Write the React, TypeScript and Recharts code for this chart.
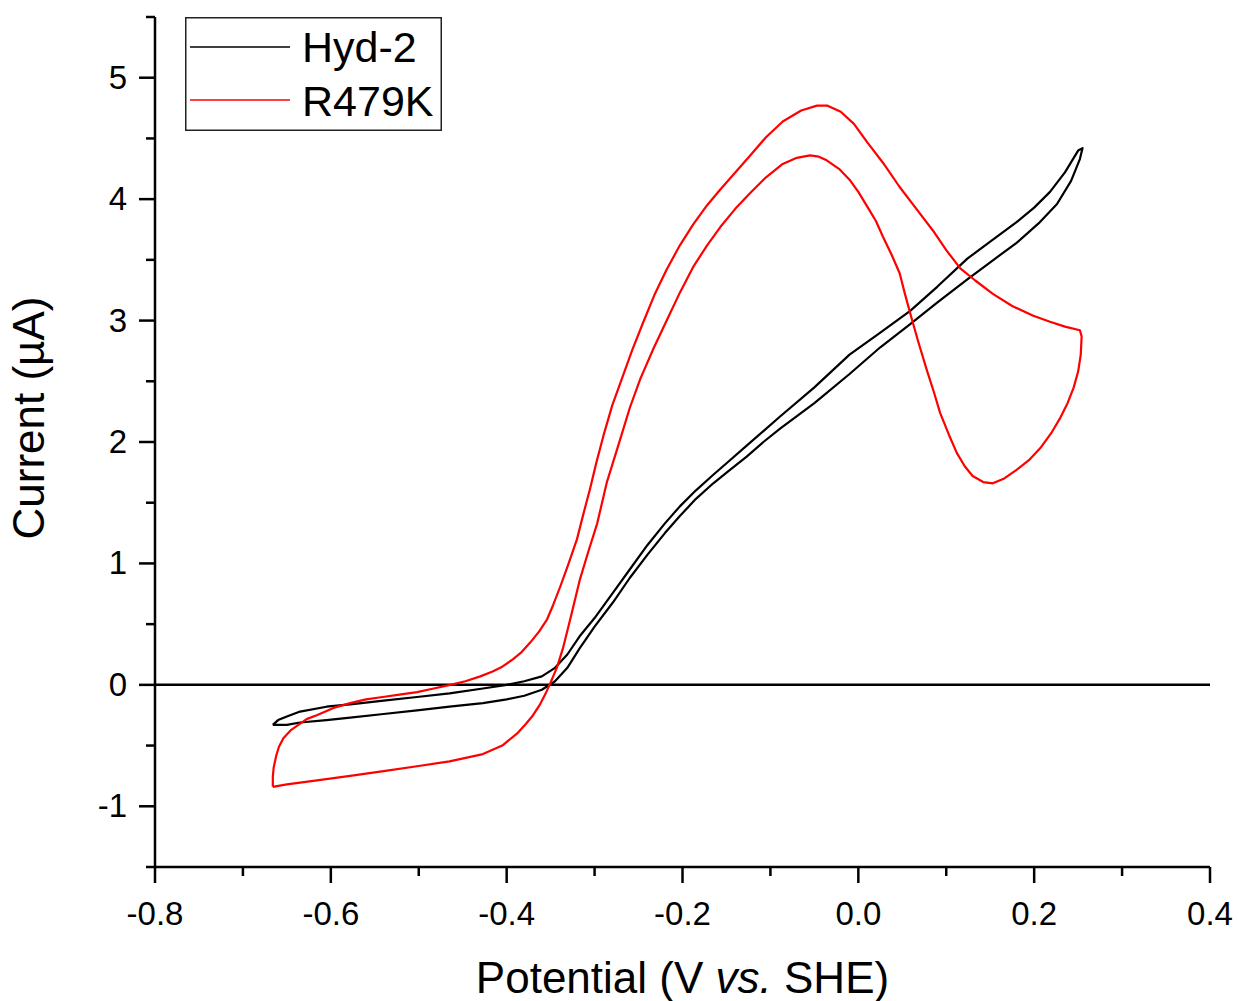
import React from "react";
import { LineChart, Line, XAxis, YAxis, ReferenceLine, Legend } from "recharts";

const FONT = "'Liberation Sans', Arial, Helvetica, sans-serif";

const xMajorTicks = [-0.8, -0.6, -0.4, -0.2, 0, 0.2, 0.4];
const xMinorTicks = [-0.7, -0.5, -0.3, -0.1, 0.1, 0.3];
const yMajorTicks = [-1, 0, 1, 2, 3, 4, 5];
const yMinorTicks = [-1.5, -0.5, 0.5, 1.5, 2.5, 3.5, 4.5, 5.5];

const hydPotential = [
  -0.666, -0.65, -0.635, -0.605, -0.578, -0.54, -0.502, -0.465, -0.427, -0.4, -0.38, -0.36, -0.345, -0.331,
  -0.317, -0.3, -0.279, -0.26, -0.24, -0.22, -0.203, -0.185, -0.165, -0.146, -0.127, -0.108, -0.089, -0.05,
  -0.01, 0.025, 0.059, 0.09, 0.124, 0.15, 0.18, 0.205, 0.226, 0.242, 0.252, 0.255,
  0.25, 0.235, 0.218, 0.2, 0.18, 0.15, 0.124, 0.09, 0.059, 0.025, -0.01, -0.05, -0.089, -0.108, -0.127,
  -0.146, -0.165, -0.185, -0.203, -0.22, -0.24, -0.26, -0.279, -0.3, -0.317, -0.331, -0.345, -0.36, -0.38,
  -0.4, -0.427, -0.465, -0.502, -0.54, -0.578, -0.605, -0.635, -0.65, -0.66, -0.666,
];
const hydCurrent = [
  -0.33, -0.33, -0.31, -0.29, -0.27, -0.24, -0.21, -0.18, -0.15, -0.12, -0.09, -0.04, 0.03, 0.14,
  0.3, 0.48, 0.68, 0.88, 1.07, 1.25, 1.39, 1.53, 1.66, 1.77, 1.88, 2.0, 2.11, 2.32,
  2.56, 2.78, 2.97, 3.15, 3.34, 3.48, 3.64, 3.8, 3.96, 4.15, 4.33, 4.42,
  4.4, 4.22, 4.06, 3.93, 3.81, 3.65, 3.51, 3.28, 3.08, 2.9, 2.72, 2.45, 2.21, 2.09, 1.97,
  1.85, 1.73, 1.6, 1.47, 1.33, 1.15, 0.95, 0.76, 0.55, 0.4, 0.25, 0.14, 0.07, 0.03,
  0.0, -0.03, -0.07, -0.1, -0.13, -0.16, -0.18, -0.22, -0.26, -0.29, -0.33,
];

const r479kPotential = [
  -0.666, -0.65, -0.62, -0.578, -0.54, -0.502, -0.465, -0.427, -0.405, -0.388, -0.378, -0.37, -0.362, -0.355,
  -0.35, -0.343, -0.336, -0.327, -0.317, -0.307, -0.297, -0.286, -0.271, -0.26, -0.248, -0.233, -0.218, -0.203,
  -0.188, -0.172, -0.157, -0.14, -0.123, -0.105, -0.086, -0.07, -0.055, -0.045, -0.036, -0.022, -0.01, 0.0,
  0.01, 0.02, 0.028, 0.038, 0.047, 0.053, 0.059, 0.068, 0.078, 0.086, 0.093, 0.103, 0.112, 0.121, 0.13,
  0.142, 0.153, 0.166, 0.18, 0.194, 0.207, 0.22, 0.229, 0.238, 0.245, 0.25, 0.253, 0.254,
  0.252, 0.235, 0.218, 0.199, 0.175, 0.153, 0.133, 0.116, 0.1, 0.085, 0.066, 0.047, 0.028, 0.01, -0.005,
  -0.02, -0.035, -0.047, -0.065, -0.086, -0.105, -0.123, -0.14, -0.157, -0.172, -0.188, -0.203, -0.218,
  -0.232, -0.245, -0.257, -0.268, -0.28, -0.29, -0.298, -0.305, -0.313, -0.32, -0.33, -0.339, -0.347,
  -0.354, -0.363, -0.373, -0.383, -0.393, -0.405, -0.416, -0.43, -0.447, -0.464, -0.483, -0.502, -0.522,
  -0.541, -0.56, -0.578, -0.597, -0.616, -0.627, -0.635, -0.645, -0.654, -0.659, -0.662, -0.665, -0.666, -0.666,
];
const r479kCurrent = [
  -0.84, -0.82, -0.79, -0.75, -0.71, -0.67, -0.63, -0.57, -0.5, -0.4, -0.32, -0.25, -0.16, -0.06,
  0.02, 0.14, 0.3, 0.56, 0.86, 1.1, 1.33, 1.67, 2.02, 2.28, 2.52, 2.77, 3.0, 3.23,
  3.44, 3.62, 3.77, 3.92, 4.05, 4.18, 4.29, 4.34, 4.36, 4.35, 4.32, 4.25, 4.16, 4.06,
  3.94, 3.82, 3.69, 3.54, 3.39, 3.22, 3.06, 2.83, 2.59, 2.41, 2.24, 2.06, 1.91, 1.8, 1.72,
  1.67, 1.66, 1.7, 1.77, 1.85, 1.95, 2.08, 2.19, 2.32, 2.45, 2.58, 2.72, 2.87,
  2.92, 2.95, 2.99, 3.04, 3.12, 3.22, 3.33, 3.43, 3.58, 3.74, 3.92, 4.1, 4.3, 4.47, 4.62,
  4.72, 4.77, 4.77, 4.73, 4.64, 4.51, 4.36, 4.22, 4.08, 3.95, 3.79, 3.62, 3.42,
  3.21, 2.98, 2.76, 2.54, 2.3, 2.05, 1.83, 1.62, 1.4, 1.2, 0.99, 0.81, 0.66,
  0.54, 0.44, 0.35, 0.27, 0.21, 0.15, 0.11, 0.07, 0.03, 0.0, -0.03, -0.06, -0.08,
  -0.1, -0.12, -0.15, -0.19, -0.25, -0.28, -0.32, -0.37, -0.44, -0.51, -0.58, -0.68, -0.76, -0.84,
];

const seriesNames = ["Hyd-2", "R479K"];
const seriesColors = ["#000000", "#ff0000"];

const hydData = hydPotential.map((x, i) => ({ x, y: hydCurrent[i] }));
const r479kData = r479kPotential.map((x, i) => ({ x, y: r479kCurrent[i] }));

const xTicks = [...xMajorTicks, ...xMinorTicks].sort((a, b) => a - b);
const yTicks = [...yMajorTicks, ...yMinorTicks].sort((a, b) => a - b);

const isIn = (arr: number[], v: number) => arr.some((a) => Math.abs(a - v) < 1e-9);

const XTick = (props: any) => {
  const { x, y, payload } = props;
  const major = isIn(xMajorTicks, payload.value);
  return (
    <g>
      <line x1={x} x2={x} y1={y} y2={y + (major ? 16 : 9)} stroke="#000" strokeWidth={2.5} />
      {major && (
        <text x={x} y={y + 58} textAnchor="middle" fontSize={33} fontFamily={FONT} fill="#000">
          {Number(payload.value).toFixed(1)}
        </text>
      )}
    </g>
  );
};

const YTick = (props: any) => {
  const { x, y, payload } = props;
  const major = isIn(yMajorTicks, payload.value);
  return (
    <g>
      <line x1={x} x2={x - (major ? 16 : 9)} y1={y} y2={y} stroke="#000" strokeWidth={2.5} />
      {major && (
        <text x={x - 28} y={y + 11} textAnchor="end" fontSize={33} fontFamily={FONT} fill="#000">
          {String(payload.value)}
        </text>
      )}
    </g>
  );
};

const XTitle = (props: any) => {
  const vb = props.viewBox || { x: 155, y: 867, width: 1055 };
  const cx = vb.x + vb.width / 2;
  return (
    <text x={cx} y={vb.y + 126} textAnchor="middle" fontSize={44} fontFamily={FONT} fill="#000">
      Potential (V <tspan fontStyle="italic">vs.</tspan> SHE)
    </text>
  );
};

const YTitle = () => (
  <text
    x={44}
    y={418}
    transform="rotate(-90 44 418)"
    textAnchor="middle"
    fontSize={44}
    fontFamily={FONT}
    fill="#000"
  >
    Current (µA)
  </text>
);

const LegendBox = (props: any) => {
  const payload = props.payload || [];
  return (
    <svg width={257} height={114} style={{ display: "block" }}>
      <rect x={0.75} y={0.75} width={255.5} height={112.5} fill="#fff" stroke="#222" strokeWidth={1.5} />
      {payload.map((p: any, i: number) => (
        <g key={i}>
          <line x1={5} x2={105} y1={30 + i * 53} y2={30 + i * 53} stroke={p.color} strokeWidth={1.5} />
          <text x={117} y={45 + i * 54} fontSize={43} fontFamily={FONT} fill="#000">
            {p.value}
          </text>
        </g>
      ))}
    </svg>
  );
};

export default function App() {
  return (
    <div style={{ position: "absolute", left: 0, top: 0, background: "#fff" }}>
      <LineChart width={1239} height={1001} margin={{ top: 17, right: 29, bottom: 0, left: 0 }}>
        <XAxis
          dataKey="x"
          type="number"
          domain={[-0.8, 0.4]}
          ticks={xTicks}
          interval={0}
          allowDataOverflow
          height={134}
          tickSize={0}
          tickMargin={0}
          tickLine={false}
          axisLine={{ stroke: "#000", strokeWidth: 2.5 }}
          tick={<XTick />}
          label={{ content: (p: any) => <XTitle {...p} /> }}
        />
        <YAxis
          dataKey="y"
          type="number"
          domain={[-1.5, 5.5]}
          ticks={yTicks}
          interval={0}
          allowDataOverflow
          width={155}
          tickSize={0}
          tickMargin={0}
          tickLine={false}
          axisLine={{ stroke: "#000", strokeWidth: 2.5 }}
          tick={<YTick />}
          label={{ content: () => <YTitle /> }}
        />
        <ReferenceLine y={0} stroke="#000" strokeWidth={2.5} />
        <Line
          data={hydData}
          dataKey="y"
          name={seriesNames[0]}
          stroke={seriesColors[0]}
          strokeWidth={2.2}
          strokeLinejoin="round"
          dot={false}
          type="linear"
          isAnimationActive={false}
        />
        <Line
          data={r479kData}
          dataKey="y"
          name={seriesNames[1]}
          stroke={seriesColors[1]}
          strokeWidth={2.2}
          strokeLinejoin="round"
          dot={false}
          type="linear"
          isAnimationActive={false}
        />
        <Legend
          layout="vertical"
          align="center"
          verticalAlign="middle"
          content={(p: any) => <LegendBox {...p} />}
          wrapperStyle={{ position: "absolute", left: 185, top: 17, width: 257, height: 114 }}
        />
      </LineChart>
    </div>
  );
}
